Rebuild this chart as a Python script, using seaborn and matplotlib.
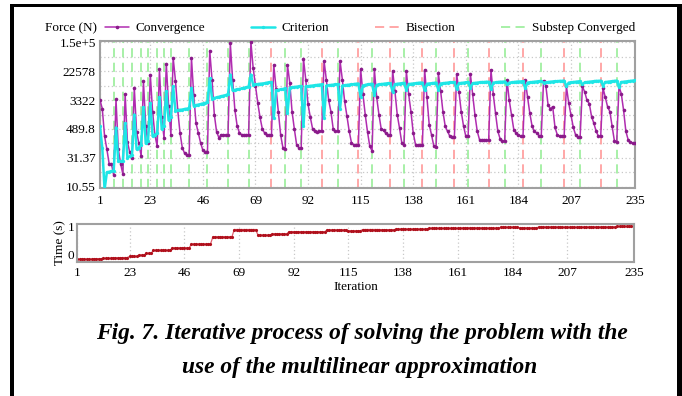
import numpy as np
import seaborn as sns
import matplotlib
matplotlib.use("Agg")
import matplotlib.pyplot as plt
from matplotlib.patches import Rectangle
from matplotlib.lines import Line2D

# iterations and tick settings
iterations = np.arange(1, 236)
x_ticks = [1, 23, 46, 69, 92, 115, 138, 161, 184, 207, 235]
force_tick_levels = [0, 1, 2, 3, 4, 5]
force_tick_labels = ['10.55', '31.37', '489.8', '3322', '22578', '1.5e+5']

# iterations where a substep ended (vertical dashed lines)
bisection_iters = [76, 98, 114, 128, 142, 156, 171, 186, 204, 220]
substep_iters = [7, 11, 15, 19, 22, 26, 29, 32, 40, 48, 57, 66, 82, 89, 105,
                 120, 134, 148, 162, 178, 194, 211, 227]

# force residual, read in tick levels (0 = 10.55 ... 5 = 1.5e+5), one row per substep
convergence = [
    3.0, 2.7, 1.75, 1.3, 0.8, 0.8, 0.4,
    3.02, 1.3, 0.8, 0.44,
    3.2, 1.55, 1.2, 0.98,
    3.43, 1.9, 1.5, 1.07,
    3.65, 2.1, 1.5,
    3.88, 2.6, 1.8, 1.4,
    4.06, 2.4, 1.7,
    4.26, 2.8, 1.8,
    4.46, 3.67, 2.65, 1.86, 1.35, 1.16, 1.09, 1.09,
    4.46, 3.16, 2.2, 1.86, 1.52, 1.26, 1.2, 1.2,
    4.71, 3.7, 2.5, 1.9, 1.7, 1.8, 1.8, 1.8, 1.8,
    4.96, 3.7, 2.65, 2.1, 1.86, 1.8, 1.8, 1.8, 1.8,
    5.0, 4.1, 3.5, 2.9, 2.4, 2.0, 1.86, 1.8, 1.78, 1.78,
    4.21, 3.39, 2.6, 1.8, 1.35, 1.3,
    4.21, 3.6, 2.6, 2.0, 1.46, 1.35, 1.35,
    4.43, 3.7, 2.85, 2.4, 2.0, 1.92, 1.9, 1.94, 1.94,
    4.35, 3.7, 3.0, 2.6, 2.0, 1.92, 1.92,
    4.35, 3.7, 2.95, 2.45, 1.92, 1.52, 1.46, 1.43, 1.43,
    4.07, 3.2, 2.5, 1.9, 1.4, 1.24,
    4.07, 3.1, 2.5, 2.0, 1.95, 1.85, 1.8, 1.8,
    4.01, 3.3, 2.5, 2.03, 1.52, 1.46,
    3.99, 3.2, 2.6, 1.86, 1.46, 1.43, 1.43, 1.43,
    4.04, 3.1, 2.14, 1.8, 1.41, 1.37,
    3.92, 3.3, 2.6, 2.09, 1.92, 1.75, 1.72, 1.72,
    3.9, 3.28, 2.6, 2.1, 1.75, 1.75,
    3.9, 3.2, 2.48, 1.92, 1.63, 1.61, 1.61, 1.61, 1.61,
    4.04, 3.2, 2.54, 1.92, 1.66, 1.58, 1.58,
    3.7, 2.99, 2.48, 1.97, 1.86, 1.8, 1.75, 1.75,
    3.7, 3.1, 2.54, 2.09, 1.92, 1.86, 1.77, 1.77,
    3.67, 3.5, 2.82, 2.7, 2.77, 2.06, 1.8, 1.75, 1.75, 1.75,
    3.47, 2.9, 2.48, 2.06, 1.8, 1.72, 1.72,
    3.47, 3.28, 2.99, 2.88, 2.43, 2.2, 1.92, 1.75, 1.75,
    3.42, 3.1, 2.77, 2.6, 2.09, 1.58, 1.54,
    3.47, 3.22, 2.65, 1.92, 1.63, 1.54, 1.52, 1.52,
]

criterion = [
    2.09, 1.35, -0.1, 0.5, 0.52, 0.54, 0.56,
    2.05, 0.9, 0.88, 0.9,
    2.2, 1.0, 1.05, 1.1,
    2.5, 1.3, 1.35, 1.45,
    2.75, 1.5, 1.6,
    2.9, 1.75, 1.8, 1.85,
    3.1, 2.0, 2.1,
    3.3, 2.3, 2.4,
    3.47, 2.63, 2.64, 2.66, 2.67, 2.69, 2.7, 2.72,
    3.42, 2.8, 2.82, 2.84, 2.86, 2.88, 2.9, 2.92,
    3.75, 3.05, 3.07, 3.09, 3.11, 3.13, 3.15, 3.17, 3.2,
    3.88, 3.33, 3.35, 3.37, 3.38, 3.4, 3.42, 3.44, 3.46,
    3.88, 3.52, 3.54, 3.55, 3.56, 3.57, 3.58, 3.6, 3.61, 3.62,
    2.37, 3.33, 3.35, 3.37, 3.38, 3.4,
    2.54, 3.42, 3.44, 3.45, 3.46, 3.47, 3.48,
    2.09, 3.47, 3.48, 3.49, 3.5, 3.51, 3.52, 3.53, 3.54,
    2.37, 3.5, 3.51, 3.52, 3.53, 3.54, 3.55,
    2.7, 3.5, 3.51, 3.52, 3.53, 3.54, 3.55, 3.56, 3.57,
    3.1, 3.5, 3.52, 3.54, 3.55, 3.56,
    3.16, 3.52, 3.54, 3.55, 3.56, 3.57, 3.58, 3.58,
    3.28, 3.54, 3.56, 3.57, 3.58, 3.59,
    3.33, 3.55, 3.56, 3.57, 3.58, 3.59, 3.6, 3.6,
    3.33, 3.56, 3.57, 3.58, 3.59, 3.6,
    3.35, 3.57, 3.58, 3.59, 3.6, 3.61, 3.61, 3.62,
    3.37, 3.58, 3.59, 3.6, 3.61, 3.62,
    3.42, 3.58, 3.59, 3.6, 3.61, 3.62, 3.62, 3.63, 3.63,
    3.37, 3.6, 3.61, 3.62, 3.63, 3.63, 3.64,
    3.54, 3.6, 3.61, 3.62, 3.63, 3.64, 3.64, 3.65,
    3.4, 3.6, 3.61, 3.62, 3.63, 3.64, 3.65, 3.65,
    3.6, 3.61, 3.62, 3.63, 3.64, 3.65, 3.65, 3.66, 3.66, 3.67,
    3.47, 3.6, 3.61, 3.62, 3.63, 3.64, 3.65,
    3.54, 3.61, 3.62, 3.63, 3.64, 3.65, 3.66, 3.66, 3.67,
    3.5, 3.62, 3.63, 3.64, 3.65, 3.66, 3.67,
    3.45, 3.62, 3.63, 3.64, 3.65, 3.66, 3.67, 3.68,
]

# time reached by each substep
substep_time = [-0.18, -0.16, -0.15, -0.13, -0.12, -0.08, -0.03, 0.03,
                0.14, 0.23, 0.37, 0.63, 0.9, 0.69, 0.74, 0.82, 0.82,
                0.88, 0.85, 0.9, 0.89, 0.91, 0.91, 0.94, 0.94, 0.96,
                0.95, 0.98, 0.96, 0.99, 0.98, 0.99, 0.99, 1.01]

ends = sorted(bisection_iters + substep_iters) + [235]
lengths = np.diff([0] + ends)
time_values = np.repeat(substep_time, lengths)

sns.set_theme(style="white")
plt.rcParams['font.family'] = ['Liberation Serif', 'DejaVu Serif']
plt.rcParams['text.color'] = 'black'
plt.rcParams['axes.labelcolor'] = 'black'

W, H = 682, 396
fig = plt.figure(figsize=(W / 100, H / 100), dpi=100)

red_c = '#ff9090'
green_c = '#8fec8f'
mag_c = '#b02cb0'
cyan_c = '#1ee6e6'
grid_c = '#c8c8c8'
spine_c = '#a0a0a0'
dash = (0, (6, 3.5))

# ---- top: force ----
ax = fig.add_axes([100 / W, 1 - 188 / H, 535 / W, 147 / H])
for it in bisection_iters:
    ax.axvline(it, color=red_c, ls=dash, lw=1.1, zorder=1)
for it in substep_iters:
    ax.axvline(it, color=green_c, ls=dash, lw=1.1, zorder=1)

sns.lineplot(x=iterations, y=convergence, ax=ax, color=mag_c, lw=1.1,
             marker='o', markersize=2.6, markeredgewidth=0,
             markerfacecolor='#8a1a8a', zorder=3, legend=False)
sns.lineplot(x=iterations, y=criterion, ax=ax, color=cyan_c, lw=1.8,
             marker='o', markersize=2.4, markeredgewidth=0, zorder=4,
             legend=False)

ax.set_xlim(1, 235)
ax.set_ylim(-0.04, 5.04)
ax.set_xticks(x_ticks)
ax.set_yticks(force_tick_levels, force_tick_labels)
ax.set_yticks(np.arange(0.5, 5, 1.0), minor=True)
ax.grid(True, which='both', axis='y', color=grid_c, ls=(0, (1, 2)), lw=0.9)
ax.grid(True, which='major', axis='x', color=grid_c, ls=(0, (1, 2)), lw=0.9)
ax.tick_params(which='both', length=0, labelsize=9.5, colors='black')
ax.tick_params(axis='y', pad=3)
ax.tick_params(axis='x', pad=5)
for s in ax.spines.values():
    s.set_color(spine_c)
    s.set_linewidth(1.5)
ax.set_ylabel('Force (N)', rotation=0, fontsize=9.5, ha='right', va='center')
ax.yaxis.set_label_coords(-0.005, 1.088)

handles = [
    Line2D([], [], color=mag_c, lw=1.1, marker='o', markersize=2.6,
           markeredgewidth=0, markerfacecolor='#8a1a8a'),
    Line2D([], [], color=cyan_c, lw=1.8, marker='o', markersize=2.4,
           markeredgewidth=0),
    Line2D([], [], color=red_c, lw=1.1, ls=dash),
    Line2D([], [], color=green_c, lw=1.1, ls=dash),
]
labels = ['Convergence', 'Criterion', 'Bisection', 'Substep Converged']
ax.legend(handles, labels, ncol=4, loc='center', mode='expand',
          bbox_to_anchor=(0.01, 1.088, 0.99, 0), frameon=False,
          fontsize=9.5, handlelength=1.8, handletextpad=0.5,
          borderaxespad=0, borderpad=0)

# ---- bottom: time ----
ax2 = fig.add_axes([77.3 / W, 1 - 261.7 / H, 556.5 / W, 37.4 / H])
sns.lineplot(x=iterations, y=time_values, ax=ax2, color='#e06070', lw=0.9,
             marker='o', markersize=2.3, markeredgewidth=0,
             markerfacecolor='#b0101c', legend=False)
ax2.set_xlim(1, 235)
ax2.set_ylim(-0.27, 1.09)
ax2.set_xticks(x_ticks)
ax2.set_yticks([0, 1])
ax2.grid(True, axis='x', color=grid_c, ls=(0, (1, 2)), lw=0.9)
ax2.tick_params(length=0, labelsize=9.5, colors='black')
ax2.tick_params(axis='y', pad=2)
ax2.tick_params(axis='x', pad=4)
for s in ax2.spines.values():
    s.set_color(spine_c)
    s.set_linewidth(1.5)
ax2.set_ylabel('Time (s)', fontsize=9.5, labelpad=1)
ax2.set_xlabel('Iteration', fontsize=9.5, labelpad=1)

# ---- caption ----
cap = dict(ha='center', va='center', fontsize=16.8, fontweight='bold',
           fontstyle='italic', color='black')
fig.text(362 / W, 1 - 334 / H,
         'Fig. 7. Iterative process of solving the problem with the', **cap)
fig.text(360 / W, 1 - 367 / H, 'use of the multilinear approximation', **cap)

# ---- black page frame ----
for (x0, y0, w, h) in [(10, 4, 4, 400), (10, 4, 672, 3.3), (677, 4, 5, 400)]:
    fig.add_artist(Rectangle((x0 / W, 1 - (y0 + h) / H), w / W, h / H,
                             transform=fig.transFigure, color='black', lw=0))

fig.savefig('out.png', dpi=100)
